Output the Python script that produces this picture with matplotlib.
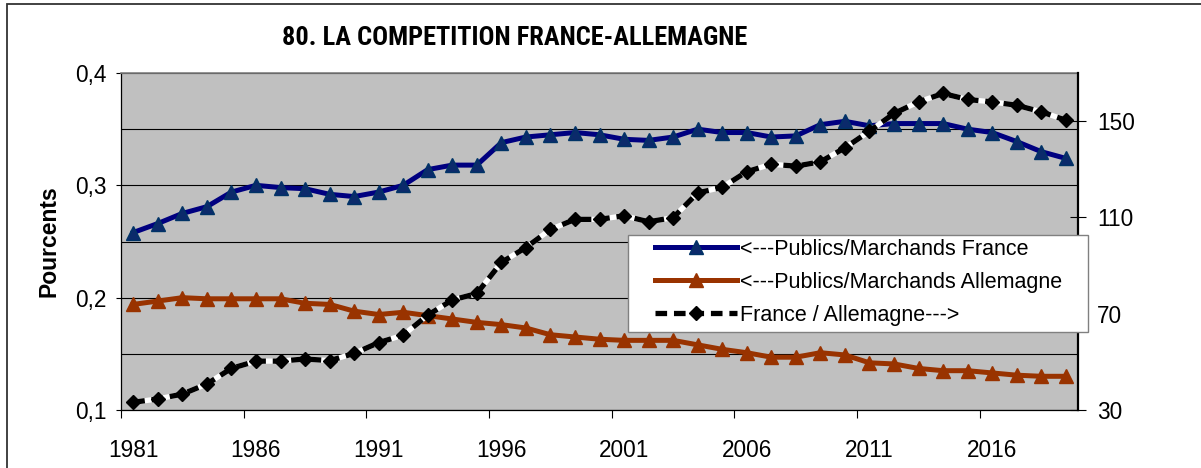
import matplotlib
matplotlib.use('Agg')
from matplotlib import pyplot as plt
from matplotlib.patches import Rectangle

# data
years = list(range(1981, 2020))
france = [0.258, 0.266, 0.275, 0.281, 0.294, 0.300, 0.298, 0.297, 0.292, 0.290,
          0.294, 0.300, 0.314, 0.318, 0.318, 0.338, 0.343, 0.345, 0.347, 0.345,
          0.341, 0.340, 0.343, 0.350, 0.347, 0.347, 0.343, 0.344, 0.354, 0.357,
          0.353, 0.355, 0.355, 0.355, 0.350, 0.347, 0.339, 0.330, 0.324]
allemagne = [0.194, 0.197, 0.200, 0.199, 0.199, 0.199, 0.199, 0.195, 0.194, 0.188,
             0.185, 0.187, 0.184, 0.181, 0.178, 0.176, 0.173, 0.167, 0.165, 0.163,
             0.162, 0.162, 0.162, 0.158, 0.154, 0.151, 0.147, 0.147, 0.151, 0.149,
             0.142, 0.141, 0.137, 0.135, 0.135, 0.133, 0.131, 0.130, 0.130]
ratio = [33.2, 34.6, 36.6, 40.8, 47.3, 50.3, 50.3, 51.2, 50.5, 53.5,
         58.0, 61.1, 69.4, 75.7, 78.4, 91.3, 97.5, 105.0, 109.2, 109.2,
         110.7, 108.2, 109.9, 120.2, 122.5, 129.0, 132.1, 131.3, 133.1, 138.9,
         145.8, 153.2, 158.0, 161.5, 159.0, 158.0, 156.6, 153.9, 150.4]

year_labels = ['1981', '1986', '1991', '1996', '2001', '2006', '2011', '2016']
left_ticks = [0.1, 0.2, 0.3, 0.4]
left_labels = ['0,1', '0,2', '0,3', '0,4']
right_ticks = [30, 70, 110, 150]

plt.rcParams['font.family'] = ['Liberation Sans', 'DejaVu Sans']
FS = 15.5
TFS = 16.3

W, H = 1201, 468
fig = plt.figure(figsize=(W / 100, H / 100), dpi=100)
ax = fig.add_axes([121 / W, 1 - 410 / H, 957 / W, 337 / H])
ax.set_facecolor('#c0c0c0')

# outer frame of the chart
fig.patches.append(Rectangle((7 / W, -0.2), 2, (464 / H) + 0.2, transform=fig.transFigure,
                             fill=False, edgecolor='#333333', lw=1.3))

l1, = ax.plot(years, france, color='#000080', lw=3.6, marker='^', ms=10,
              markerfacecolor='#0b2a6b', markeredgecolor='#003366',
              label='<---Publics/Marchands France')
l2, = ax.plot(years, allemagne, color='#993300', lw=3.6, marker='^', ms=10,
              markerfacecolor='#993300', markeredgecolor='#993300',
              label='<---Publics/Marchands Allemagne')

ax.set_xlim(1980.5, 2019.5)
ax.set_ylim(0.1, 0.4)
ax.set_yticks(left_ticks)
ax.set_yticklabels(left_labels)
ax.set_yticks([0.15, 0.25, 0.35], minor=True)
ax.grid(True, axis='y', which='both', color='black', lw=0.8)
ax.set_axisbelow(True)

ax.set_xticks([y - 0.5 for y in years[::5]])
ax.set_xticklabels([])
ax.set_xticks([int(y) for y in year_labels], minor=True)
ax.set_xticklabels(year_labels, minor=True)
ax.tick_params(axis='x', which='major', length=6, width=0.8, direction='out')
ax.tick_params(axis='x', which='minor', length=0, pad=21, labelsize=TFS)
ax.tick_params(axis='y', which='major', length=3.6, width=0.8, direction='out', pad=7, labelsize=TFS)
ax.tick_params(axis='y', which='minor', length=0)

for s in ['left', 'bottom']:
    ax.spines[s].set_color('black')
    ax.spines[s].set_linewidth(0.9)
ax.spines['top'].set_color('#808080')
ax.spines['top'].set_linewidth(1.2)
ax.spines['right'].set_visible(False)

ax2 = ax.twinx()
ax2.plot(years, ratio, color='white', lw=3.8, solid_capstyle='butt', zorder=2)
l3, = ax2.plot(years, ratio, color='black', lw=3.8, ls=(0, (2.2, 1.3)), marker='D', ms=7,
               markerfacecolor='black', markeredgecolor='black', zorder=3,
               label='France / Allemagne--->')
ax2.set_ylim(30, 170)
ax2.set_yticks(right_ticks)
ax2.tick_params(axis='y', length=11.3, width=0.8, direction='inout', pad=8, labelsize=TFS)
ax2.spines['right'].set_color('black')
ax2.spines['right'].set_linewidth(1.6)
for s in ['left', 'top', 'bottom']:
    ax2.spines[s].set_visible(False)

# legend box drawn by hand, entries placed inside it
fig.patches.append(Rectangle((628 / W, 1 - 332 / H), 460 / W, 97 / H, transform=fig.transFigure,
                             facecolor='white', edgecolor='#808080', lw=1.0, zorder=4))
leg = fig.legend(handles=[l1, l2, l3], loc='upper left',
                 bbox_to_anchor=(655 / W, 1 - 239 / H), bbox_transform=fig.transFigure,
                 borderaxespad=0, borderpad=0, fontsize=FS, frameon=False,
                 handlelength=3.8, handletextpad=0.15, labelspacing=0.55)
leg.set_zorder(5)

fig.text(515 / W, 1 - 38 / H, '80. LA COMPETITION FRANCE-ALLEMAGNE',
         family=['Roboto Condensed', 'Liberation Sans'], fontsize=19,
         fontweight='bold', ha='center', va='center')
fig.text(49 / W, 1 - 241 / H, 'Pourcents', rotation=90, fontsize=16.5,
         fontweight='bold', ha='center', va='center')

fig.savefig('out.png', dpi=100)
